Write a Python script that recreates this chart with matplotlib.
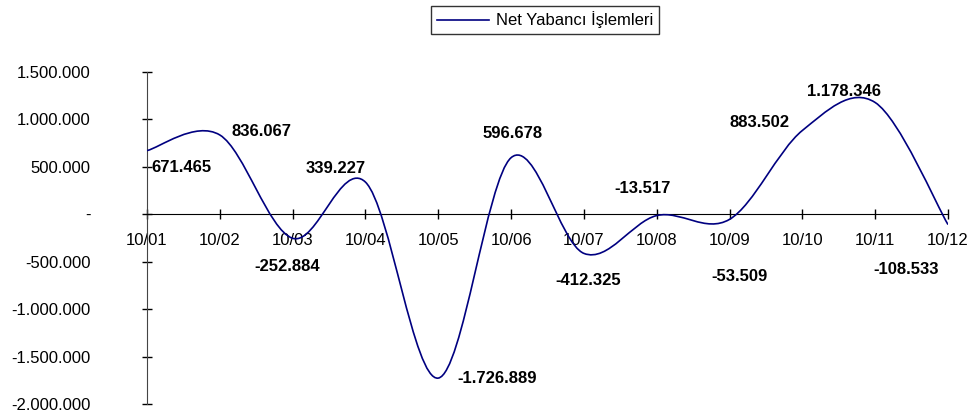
import numpy as np
import matplotlib
matplotlib.use("Agg")
import matplotlib.pyplot as plt
from matplotlib.path import Path
from matplotlib.patches import PathPatch
from matplotlib.lines import Line2D
from matplotlib.ticker import FuncFormatter

plt.rcParams['font.family'] = ['Liberation Sans', 'DejaVu Sans']

# data
dates = ['10/01', '10/02', '10/03', '10/04', '10/05', '10/06',
         '10/07', '10/08', '10/09', '10/10', '10/11', '10/12']
values = [671465, 836067, -252884, 339227, -1726889, 596678,
          -412325, -13517, -53509, 883502, 1178346, -108533]
series_name = 'Net Yabancı İşlemleri'

# label offsets in pixels (dx, dy) from each point
label_offsets = [(34, -17), (42, 3), (-5, -28), (-30, 14), (59, 0), (2, 24),
                 (4, -27), (-14, 27), (10, -57), (-43, 8), (-31, 11), (-42, -45)]

navy = '#000080'


def tr_fmt(v):
    v = int(round(v))
    if v == 0:
        return '-'
    s = f"{abs(v):,}".replace(',', '.')
    return '-' + s if v < 0 else s


fig = plt.figure(figsize=(9.73, 4.17), dpi=100)
ax = fig.add_axes([147 / 973, 1 - 404 / 417, 801 / 973, 332 / 417])

x = np.arange(len(values))
y = np.array(values, dtype=float)

# smoothed line (Excel style bezier through the points)
verts = [(x[0], y[0])]
codes = [Path.MOVETO]
n = len(x)
for i in range(n - 1):
    p0 = (x[max(i - 1, 0)], y[max(i - 1, 0)])
    p1 = (x[i], y[i])
    p2 = (x[i + 1], y[i + 1])
    p3 = (x[min(i + 2, n - 1)], y[min(i + 2, n - 1)])
    c1 = (p1[0] + (p2[0] - p0[0]) / 6, p1[1] + (p2[1] - p0[1]) / 6)
    c2 = (p2[0] - (p3[0] - p1[0]) / 6, p2[1] - (p3[1] - p1[1]) / 6)
    verts += [c1, c2, p2]
    codes += [Path.CURVE4] * 3
ax.add_patch(PathPatch(Path(verts, codes), facecolor='none', edgecolor=navy,
                       lw=1.2, zorder=3))

for xi, yi, (dx, dy) in zip(x, y, label_offsets):
    ax.annotate(tr_fmt(yi), (xi, yi), xytext=(dx, dy), textcoords='offset pixels',
                ha='center', va='center', fontsize=12, fontweight='bold',
                color='black', zorder=4)

ax.set_xlim(0, n - 1)
ax.set_ylim(-2000000, 1500000)
ax.set_yticks(np.arange(-2000000, 1500001, 500000))
ax.yaxis.set_major_formatter(FuncFormatter(lambda v, p: tr_fmt(v)))
ax.set_xticks(x)
ax.set_xticklabels(dates)

for s in ['top', 'right']:
    ax.spines[s].set_visible(False)
ax.spines['bottom'].set_position(('data', 0))
ax.spines['bottom'].set_color('black')
ax.spines['left'].set_color('#444444')
ax.tick_params(axis='x', direction='inout', length=7, width=1, pad=10,
               labelsize=12, colors='black')
ax.tick_params(axis='y', direction='inout', length=7, width=1, pad=37,
               labelsize=12, colors='black')
ax.patch.set_visible(False)

handle = Line2D([], [], color=navy, lw=1.2)
leg = fig.legend([handle], [series_name], loc='center',
                 bbox_to_anchor=(545 / 973, 1 - 20 / 417), fontsize=12,
                 frameon=True, fancybox=False, handlelength=3.1,
                 borderpad=0.35, handletextpad=0.4, borderaxespad=0)
leg.get_frame().set_edgecolor('black')
leg.get_frame().set_linewidth(1)

fig.savefig('out.png', dpi=100)
